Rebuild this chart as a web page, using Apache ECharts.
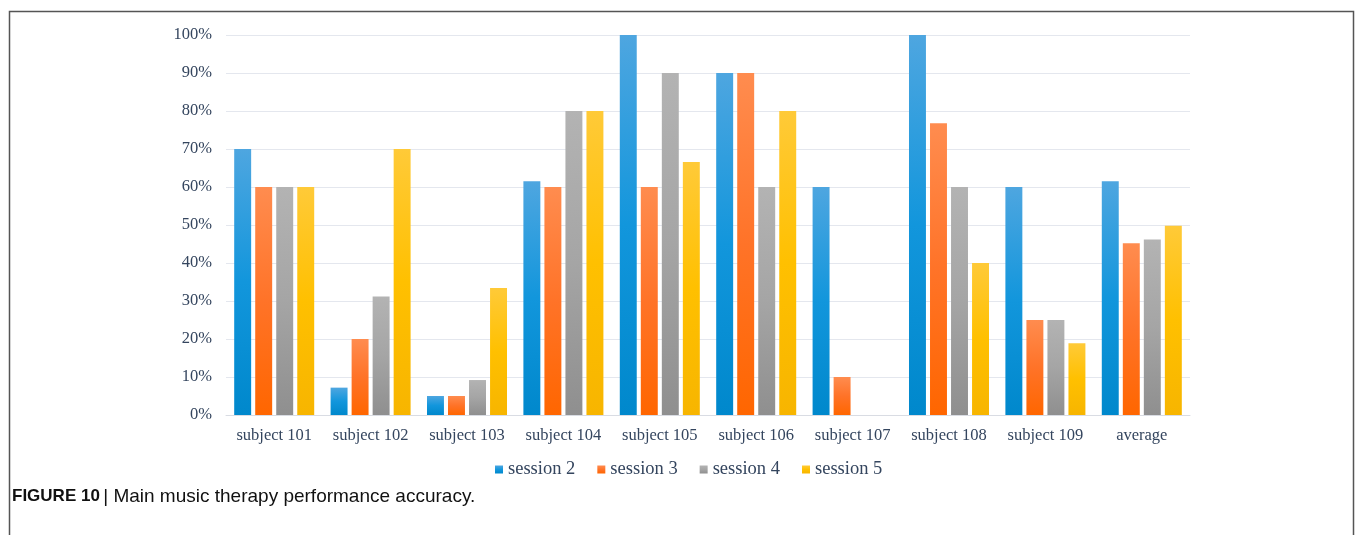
<!DOCTYPE html>
<html>
<head>
<meta charset="utf-8">
<script src="https://cdn.jsdelivr.net/npm/echarts@6/dist/echarts.min.js"></script>
<style>
  html, body { margin: 0; padding: 0; background: #fff; }
  #chart { width: 1355px; height: 535px; }
</style>
</head>
<body>
<div id="chart"></div>
<script>
// categories and values (percent)
const subjects = ['subject 101', 'subject 102', 'subject 103', 'subject 104', 'subject 105',
  'subject 106', 'subject 107', 'subject 108', 'subject 109', 'average']
const sessionNames = ['session 2', 'session 3', 'session 4', 'session 5']
const session2 = [70, 7.2, 5, 61.5, 100, 90, 60, 100, 60, 61.5]
const session3 = [60, 20, 5, 60, 60, 90, 10, 76.8, 25, 45.2]
const session4 = [60, 31.2, 9.2, 80, 90, 60, 0, 60, 25, 46.2]
const session5 = [60, 70, 33.4, 80, 66.6, 80, 0, 40, 18.9, 49.8]
const yTicks = [0, 10, 20, 30, 40, 50, 60, 70, 80, 90, 100]

const seriesData = [session2, session3, session4, session5]
// top / bottom / middle colours of each bar gradient
const colors = [
  ['#4ea6e0', '#0088cc', '#1296dc'],
  ['#ff8c4f', '#ff6600', '#ff7328'],
  ['#b3b3b3', '#8f8f8f', '#a5a5a5'],
  ['#ffca38', '#f7b500', '#ffc000']
]

const chart = echarts.init(document.getElementById('chart'))
const serif = '"Liberation Serif", "DejaVu Serif", serif'
const textColor = '#34455e'

const option = {
  animation: false,
  backgroundColor: '#fff',
  color: colors.map(c => c[2]),
  graphic: [
    {
      type: 'polyline',
      shape: { points: [[9.5, 540], [9.5, 11.5], [1353.5, 11.5], [1353.5, 540]] },
      style: { stroke: '#555', lineWidth: 1.5, fill: null }
    },
    {
      type: 'text',
      left: 12,
      top: 487,
      style: {
        rich: {
          b: { fontFamily: '"Liberation Sans", Arial, sans-serif', fontWeight: 'bold', fontSize: 17, fill: '#111' },
          n: { fontFamily: '"Liberation Sans", Arial, sans-serif', fontSize: 19, fill: '#111' }
        },
        text: '{b|FIGURE 10} {n|| Main music therapy performance accuracy.}'
      }
    }
  ],
  legend: {
    data: sessionNames,
    left: 490,
    top: 455,
    icon: 'rect',
    itemWidth: 8,
    itemHeight: 8,
    itemGap: 22,
    textStyle: { fontFamily: serif, fontSize: 18.5, color: textColor }
  },
  grid: { left: 226, right: 165, top: 35, bottom: 120 },
  xAxis: {
    type: 'category',
    data: subjects,
    axisLine: { lineStyle: { color: '#d9dce3' } },
    axisTick: { show: false },
    axisLabel: { interval: 0, fontFamily: serif, fontSize: 16.5, color: textColor, margin: 12 }
  },
  yAxis: {
    type: 'value',
    min: 0,
    max: 100,
    interval: 10,
    axisLine: { show: false },
    axisTick: { show: false },
    splitLine: { lineStyle: { color: '#e4e7ee' } },
    axisLabel: {
      fontFamily: serif, fontSize: 16.5, color: textColor, margin: 14,
      formatter: v => (yTicks.includes(v) ? v + '%' : '')
    }
  },
  series: seriesData.map((d, i) => ({
    name: sessionNames[i],
    type: 'bar',
    data: d,
    barGap: '24%',
    barCategoryGap: '17%',
    itemStyle: {
      color: new echarts.graphic.LinearGradient(0, 0, 0, 1, [
        { offset: 0, color: colors[i][0] },
        { offset: 0.5, color: colors[i][2] },
        { offset: 1, color: colors[i][1] }
      ])
    }
  }))
}
chart.setOption(option)
</script>
</body>
</html>
